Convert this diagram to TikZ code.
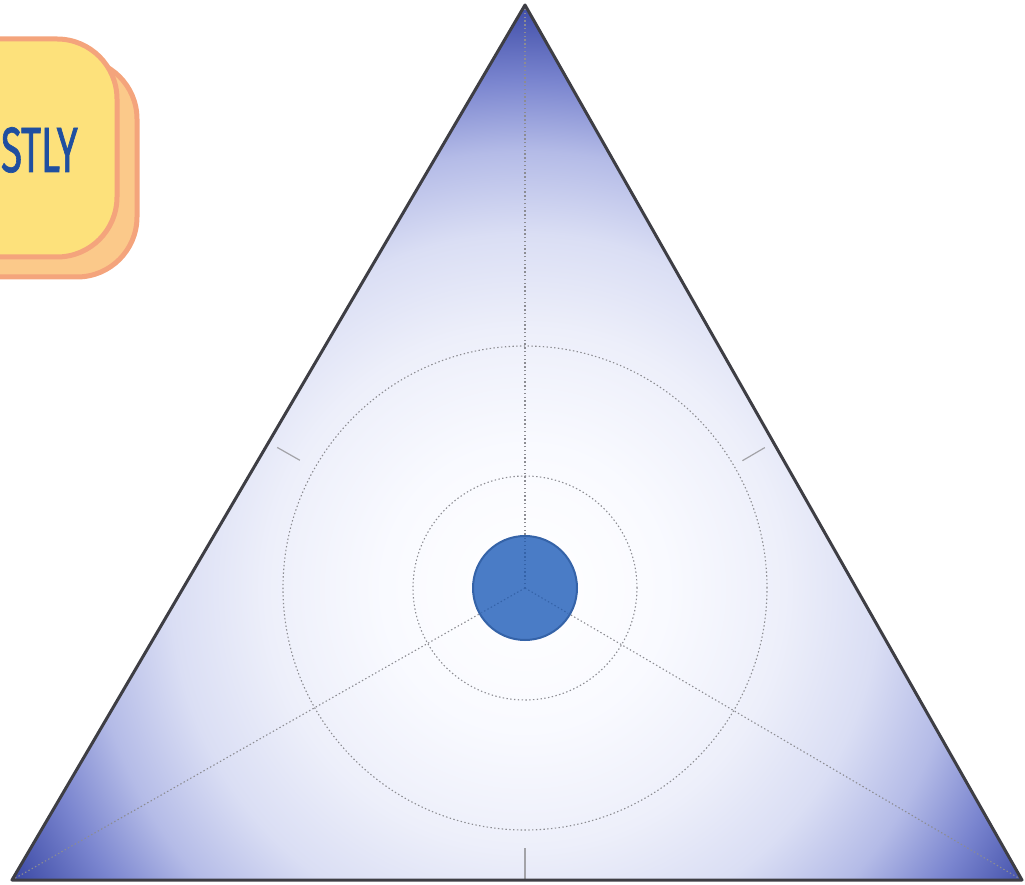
\documentclass[tikz,border=0pt]{standalone}
\usepackage{fontspec}
\newfontfamily\tagfont[FakeStretch=0.6,FakeBold=1]{Fira Sans}
\usetikzlibrary{calc}
\definecolor{boxedge}{HTML}{F4A47C}
\definecolor{boxfront}{HTML}{FDE17B}
\definecolor{boxback}{HTML}{FBC98A}
\definecolor{tagblue}{HTML}{1F4FA0}
\definecolor{rim}{HTML}{3E3E44}
\definecolor{guidegray}{HTML}{8C8C92}
\definecolor{discblue}{HTML}{4A7CC6}
\definecolor{discrim}{HTML}{3563A8}
\definecolor{glowA}{HTML}{F9FAFF}
\definecolor{glowB}{HTML}{EDEFFA}
\definecolor{glowC}{HTML}{DADEF4}
\definecolor{glowD}{HTML}{B4BBE7}
\definecolor{glowE}{HTML}{7A85CF}
\definecolor{glowF}{HTML}{3A48A4}
\pgfdeclareradialshading{triglow}{\pgfpoint{0bp}{0bp}}{color(0bp)=(white); color(6bp)=(glowA); color(11bp)=(glowB); color(15bp)=(glowC); color(18.5bp)=(glowD); color(21.5bp)=(glowE); color(25bp)=(glowF); color(50bp)=(glowF)}
\tikzset{
  guide/.style={draw=guidegray, line width=1.1pt, dash pattern=on 1.4pt off 2.4pt},
  tickmark/.style={draw=guidegray!80, line width=1.2pt},
  tagbox/.style={draw=boxedge, line width=5pt, rounded corners=60pt}
}

\begin{document}
\begin{tikzpicture}[x=1pt,y=1pt]
    \useasboundingbox (0,0) rectangle (1025,884);
    \draw[tagbox, fill=boxback] (-80,607) rectangle (137,825);
    \draw[tagbox, fill=boxfront] (-100,627) rectangle (117,845);
    \node[anchor=base east, inner sep=0, text=tagblue, font=\tagfont\fontsize{64}{64}\selectfont] (tag) at (78,712) {STLY};
    \coordinate (top) at (525,879);
    \coordinate (bl) at (12,4);
    \coordinate (br) at (1022,4);
    \coordinate (ctr) at (525,296);
    \coordinate (ml) at ($(top)!.5!(bl)$);
    \coordinate (mr) at ($(top)!.5!(br)$);
    \coordinate (mb) at (525,4);
    \begin{scope}
        \clip (top) -- (bl) -- (br) -- cycle;
        \shade[shading=triglow] (ctr) circle[radius=590pt];
    \end{scope}
    \draw[guide] (ctr) circle[radius=112pt];
    \draw[guide] (ctr) circle[radius=242pt];
    \draw[guide] (ctr) -- (top);
    \draw[guide] (ctr) -- (bl);
    \draw[guide] (ctr) -- (br);
    \draw[tickmark] ($(ml)!10pt!(ctr)$) -- ($(ml)!36pt!(ctr)$);
    \draw[tickmark] ($(mr)!10pt!(ctr)$) -- ($(mr)!36pt!(ctr)$);
    \draw[tickmark] (mb) -- ($(mb)!32pt!(ctr)$);
    \node[circle, minimum size=104pt, inner sep=0, fill=discblue, draw=discrim, line width=2pt] (disc) at (ctr) {};
    \draw[guide, draw=discrim] (ctr) -- ($(ctr)!50pt!(top)$);
    \draw[guide, draw=discrim] (ctr) -- ($(ctr)!50pt!(bl)$);
    \draw[guide, draw=discrim] (ctr) -- ($(ctr)!50pt!(br)$);
    \draw[draw=rim, line width=3pt, line join=round] (top) -- (bl) -- (br) -- cycle;
\end{tikzpicture}
\end{document}
